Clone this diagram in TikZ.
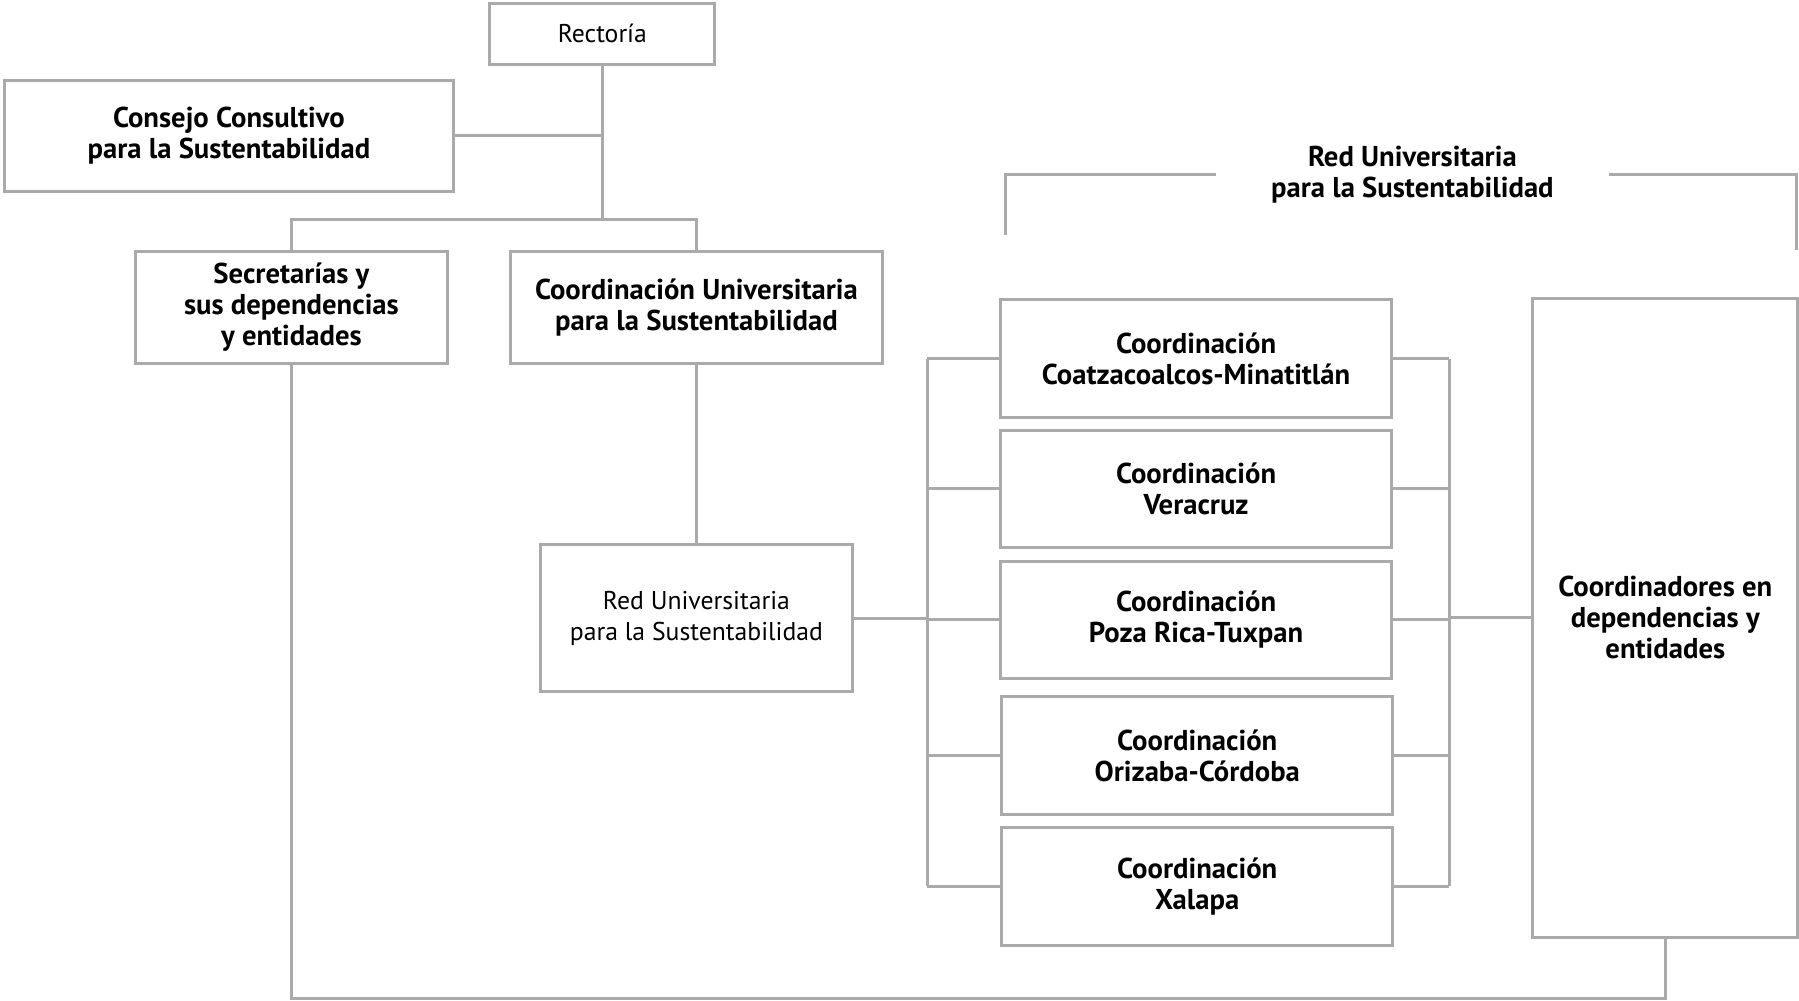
\documentclass[tikz,border=0pt]{standalone}
\usepackage{fontspec}
\setmainfont{PT Sans}
\definecolor{linegray}{RGB}{170,170,170}
\begin{document}
\begin{tikzpicture}[x=0.5pt,y=-0.5pt,
  every node/.style={text=black, font=\fontsize{11.2}{13.5}\selectfont},
  box/.style={draw=linegray, line width=1.3pt, align=center, inner sep=0pt},
  bbox/.style={box, font=\fontsize{12.5}{13.5}\selectfont\bfseries},
  lbltext/.style={align=center, inner sep=0pt, font=\fontsize{12.5}{13.5}\selectfont\bfseries},
  conn/.style={draw=linegray, line width=1.3pt}]
\useasboundingbox (0,0) rectangle (1568,872);
% nodes
\node[box, minimum width=98pt, minimum height=26.5pt] (rect) at (525,29.5) {Rectoría};
\node[bbox, minimum width=195.5pt, minimum height=48.5pt] (cons) at (199.5,118.5) {Consejo Consultivo\\para la Sustentabilidad};
\node[bbox, minimum width=136pt, minimum height=49pt] (sec) at (254,268) {Secretarías y\\sus dependencias\\y entidades};
\node[bbox, minimum width=162pt, minimum height=49pt] (cu) at (607,268) {Coordinación Universitaria\\para la Sustentabilidad};
\node[box, minimum width=136pt, minimum height=64pt] (red) at (607,539) {Red Universitaria\\para la Sustentabilidad};
\node[bbox, minimum width=170.5pt, minimum height=51.5pt] (c1) at (1042.5,312.5) {Coordinación\\Coatzacoalcos-Minatitlán};
\node[bbox, minimum width=170.5pt, minimum height=51pt] (c2) at (1042.5,426) {Coordinación\\Veracruz};
\node[bbox, minimum width=170.5pt, minimum height=51pt] (c3) at (1042.5,540) {Coordinación\\Poza Rica-Tuxpan};
\node[bbox, minimum width=170.5pt, minimum height=51.5pt] (c4) at (1043.5,658.5) {Coordinación\\Orizaba-Córdoba};
\node[bbox, minimum width=170.5pt, minimum height=51.5pt] (c5) at (1043.5,772.5) {Coordinación\\Xalapa};
\node[bbox, minimum width=115.5pt, minimum height=278.5pt] (coo) at (1451.5,538.5) {Coordinadores en\\dependencias y\\entidades};
\node[lbltext, minimum width=171pt] (lbl) at (1231,152) {Red Universitaria\\para la Sustentabilidad};
% helper coordinates
\coordinate (top) at (525,191);
\coordinate (lbx) at (808,0);
\coordinate (rbx) at (1263,0);
\coordinate (bot) at (0,870);
\coordinate (brL) at (876,205);
\coordinate (brR) at (1566,218);
% connectors
\draw[conn] (rect.south) -- (top);
\draw[conn] (cons.east) -- (cons.east -| rect.south);
\draw[conn] (sec.north) |- (top) -| (cu.north);
\draw[conn] (cu.south) -- (red.north);
\draw[conn] (red.east) -- (red.east -| lbx);
\draw[conn] (c1.west -| lbx) -- (c5.west -| lbx);
\draw[conn] (c1.east -| rbx) -- (c5.east -| rbx);
\foreach \c in {c1,c2,c3,c4,c5}{
  \draw[conn] (\c.west) -- (\c.west -| lbx);
  \draw[conn] (\c.east) -- (\c.east -| rbx);
}
\draw[conn] (coo.west -| rbx) -- (coo.west);
\draw[conn] (coo.south) |- (sec.south |- bot) -- (sec.south);
\draw[conn] (brL) |- (lbl.west);
\draw[conn] (lbl.east) -| (brR);
\end{tikzpicture}
\end{document}
